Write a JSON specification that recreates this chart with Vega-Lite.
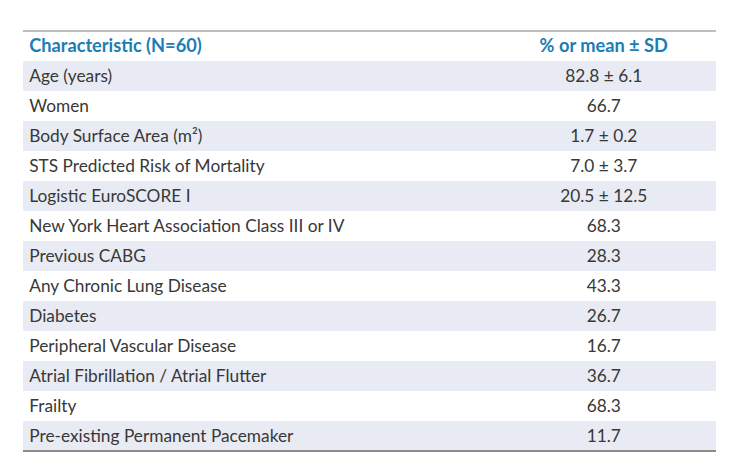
{
  "$schema": "https://vega.github.io/schema/vega-lite/v6.json",
  "width": 693,
  "height": 420,
  "autosize": {"type": "none"},
  "padding": {"left": 23, "top": 31, "right": 15, "bottom": 25},
  "background": "white",
  "config": {"view": {"stroke": null}, "text": {"font": "Lato", "fontSize": 17.3, "color": "#383838"}},
  "datasets": {
    "rows": [
      {"r": 1, "characteristic": "Age (years)", "value": "82.8 ± 6.1"},
      {"r": 2, "characteristic": "Women", "value": "66.7"},
      {"r": 3, "characteristic": "Body Surface Area (m²)", "value": "1.7 ± 0.2"},
      {"r": 4, "characteristic": "STS Predicted Risk of Mortality", "value": "7.0 ± 3.7"},
      {"r": 5, "characteristic": "Logistic EuroSCORE I", "value": "20.5 ± 12.5"},
      {"r": 6, "characteristic": "New York Heart Association Class III or IV", "value": "68.3"},
      {"r": 7, "characteristic": "Previous CABG", "value": "28.3"},
      {"r": 8, "characteristic": "Any Chronic Lung Disease", "value": "43.3"},
      {"r": 9, "characteristic": "Diabetes", "value": "26.7"},
      {"r": 10, "characteristic": "Peripheral Vascular Disease", "value": "16.7"},
      {"r": 11, "characteristic": "Atrial Fibrillation / Atrial Flutter", "value": "36.7"},
      {"r": 12, "characteristic": "Frailty", "value": "68.3"},
      {"r": 13, "characteristic": "Pre-existing Permanent Pacemaker", "value": "11.7"}
    ],
    "header": [{"r": 0, "characteristic": "Characteristic (N=60)", "value": "% or mean ± SD"}]
  },
  "layer": [
    {
      "data": {"name": "rows"},
      "transform": [{"filter": "datum.r % 2 == 1"}],
      "mark": {"type": "rect", "fill": "#e8ebf3"},
      "encoding": {
        "y": {"field": "r", "type": "ordinal", "scale": {"domain": [0,1,2,3,4,5,6,7,8,9,10,11,12,13], "paddingInner": 0, "paddingOuter": 0}, "axis": null}
      }
    },
    {
      "data": {"name": "header"},
      "mark": {"type": "rule", "stroke": "#a8a8a8", "strokeWidth": 1.5},
      "encoding": {
        "y": {"field": "r", "type": "ordinal", "bandPosition": 0, "axis": null}
      }
    },
    {
      "data": {"values": [{"r": 13}]},
      "mark": {"type": "rule", "stroke": "#8c8c8c", "strokeWidth": 2},
      "encoding": {
        "y": {"field": "r", "type": "ordinal", "bandPosition": 1, "axis": null}
      }
    },
    {
      "data": {"name": "rows"},
      "mark": {"type": "text", "align": "left", "baseline": "middle", "dy": 1},
      "encoding": {
        "y": {"field": "r", "type": "ordinal", "axis": null},
        "x": {"datum": 0.9, "type": "quantitative", "scale": {"domain": [0, 100]}, "axis": null},
        "text": {"field": "characteristic"}
      }
    },
    {
      "data": {"name": "rows"},
      "mark": {"type": "text", "align": "center", "baseline": "middle", "dy": 1},
      "encoding": {
        "y": {"field": "r", "type": "ordinal", "axis": null},
        "x": {"datum": 83.8, "type": "quantitative", "axis": null},
        "text": {"field": "value"}
      }
    },
    {
      "data": {"name": "header"},
      "mark": {"type": "text", "align": "left", "baseline": "middle", "fontWeight": "bold", "fontSize": 18.2, "color": "#1b7db4", "dy": 1},
      "encoding": {
        "y": {"field": "r", "type": "ordinal", "axis": null},
        "x": {"datum": 0.9, "type": "quantitative", "axis": null},
        "text": {"field": "characteristic"}
      }
    },
    {
      "data": {"name": "header"},
      "mark": {"type": "text", "align": "center", "baseline": "middle", "fontWeight": "bold", "fontSize": 18.2, "color": "#1b7db4", "dy": 1},
      "encoding": {
        "y": {"field": "r", "type": "ordinal", "axis": null},
        "x": {"datum": 83.8, "type": "quantitative", "axis": null},
        "text": {"field": "value"}
      }
    }
  ]
}
